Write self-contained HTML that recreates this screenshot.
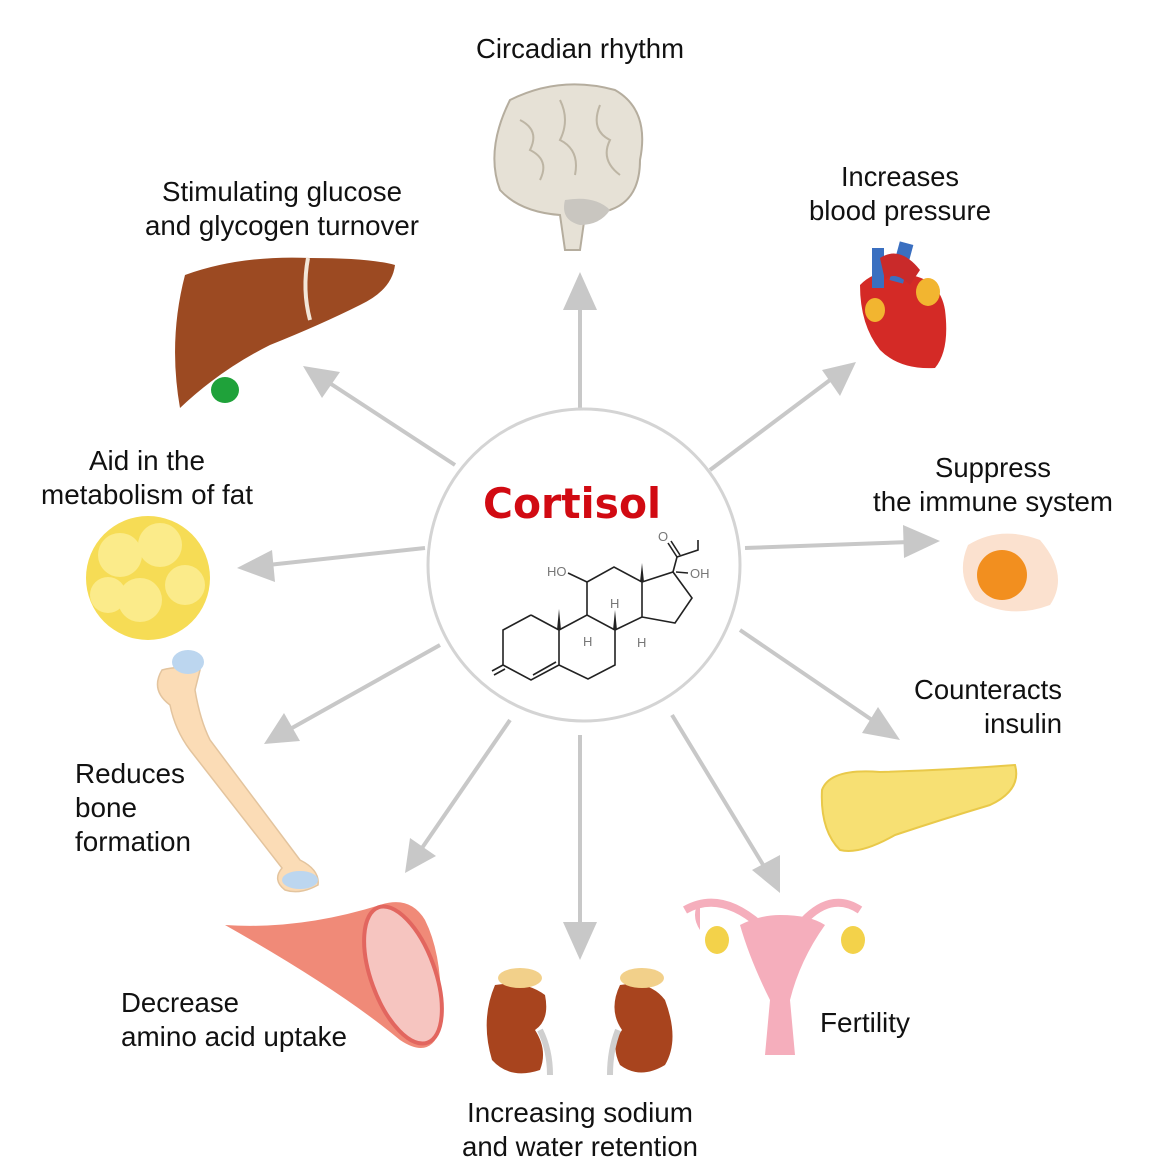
<!DOCTYPE html>
<html><head><meta charset="utf-8"><style>
html,body{margin:0;padding:0;background:#fff}
svg{display:block}
text{font-family:"Liberation Sans",Arial,sans-serif;fill:#111}
</style></head><body>
<svg width="1169" height="1170" viewBox="0 0 1169 1170" xmlns="http://www.w3.org/2000/svg">
<defs>
<marker id="ah" viewBox="0 0 10 10" refX="9" refY="5" markerWidth="12" markerHeight="11" markerUnits="userSpaceOnUse" orient="auto">
</marker>
</defs>
<rect width="1169" height="1170" fill="#fff"/>
<!-- arrows -->
<g stroke="#c8c8c8" stroke-width="4" fill="none">
<path d="M580 410 L580 300"/>
<path d="M710 470 L830 380"/>
<path d="M745 548 L910 542"/>
<path d="M740 630 L875 722"/>
<path d="M672 715 L765 868"/>
<path d="M580 735 L580 930"/>
<path d="M510 720 L422 848"/>
<path d="M440 645 L292 728"/>
<path d="M425 548 L268 565"/>
<path d="M455 465 L328 382"/>
</g>
<g fill="#c8c8c8">
<polygon points="580,272 563,310 597,310"/>
<polygon points="856,362 822,370 840,396"/>
<polygon points="940,541 903,525 904,558"/>
<polygon points="900,740 878,707 862,733"/>
<polygon points="780,893 752,870 780,855"/>
<polygon points="580,960 563,922 597,922"/>
<polygon points="405,873 410,838 436,856"/>
<polygon points="264,744 284,713 300,741"/>
<polygon points="237,568 272,550 275,582"/>
<polygon points="303,366 340,372 322,398"/>
</g>
<!-- center circle -->
<circle cx="584" cy="565" r="156" fill="#fff" stroke="#d4d4d4" stroke-width="3"/>
<text x="572" y="518" text-anchor="middle" font-size="42" font-weight="bold" style="fill:#d10a12;font-family:'DejaVu Sans','Liberation Sans',sans-serif" textLength="178" lengthAdjust="spacingAndGlyphs">Cortisol</text>
<!-- molecule -->
<g stroke="#222" stroke-width="1.6" fill="none">
<polyline points="531,615 559,630 559,665 531,680 503,665 503,630 531,615"/>
<line x1="533" y1="675" x2="556" y2="662"/>
<polyline points="559,630 587,615 615,630 615,665 588,679 559,665"/>
<polyline points="587,615 587,582 614,567 642,582 642,617 615,630"/>
<polyline points="642,582 673,572 692,598 675,623 642,617"/>
<polyline points="673,572 677,557 698,550 698,540"/>
<line x1="677" y1="557" x2="668" y2="543"/><line x1="680" y1="555" x2="671" y2="541"/>
<line x1="503" y1="665" x2="492" y2="671"/><line x1="505" y1="669" x2="494" y2="675"/>
<line x1="587" y1="582" x2="568" y2="573"/>
<line x1="676" y1="572" x2="688" y2="573"/>
</g>
<g fill="#222"><polygon points="557,630 561,630 559,609"/><polygon points="640,582 644,582 642,563"/><polygon points="613,630 617,630 615,610"/></g>
<g font-size="13" style="fill:#666">
<text x="547" y="576" style="fill:#777">HO</text><text x="690" y="578" style="fill:#777">OH</text>
<text x="658" y="541" style="fill:#777">O</text>
<text x="583" y="646" style="fill:#777">H</text><text x="610" y="608" style="fill:#777">H</text><text x="637" y="647" style="fill:#777">H</text>
</g>
<!-- labels -->
<g font-size="28">
<text x="580" y="58" text-anchor="middle" textLength="208" lengthAdjust="spacingAndGlyphs">Circadian rhythm</text>
<text x="900" y="186" text-anchor="middle" textLength="118" lengthAdjust="spacingAndGlyphs">Increases</text>
<text x="900" y="220" text-anchor="middle" textLength="182" lengthAdjust="spacingAndGlyphs">blood pressure</text>
<text x="282" y="201" text-anchor="middle" textLength="240" lengthAdjust="spacingAndGlyphs">Stimulating glucose</text>
<text x="282" y="235" text-anchor="middle" textLength="274" lengthAdjust="spacingAndGlyphs">and glycogen turnover</text>
<text x="147" y="470" text-anchor="middle" textLength="116" lengthAdjust="spacingAndGlyphs">Aid in the</text>
<text x="147" y="504" text-anchor="middle" textLength="212" lengthAdjust="spacingAndGlyphs">metabolism of fat</text>
<text x="993" y="477" text-anchor="middle" textLength="116" lengthAdjust="spacingAndGlyphs">Suppress</text>
<text x="993" y="511" text-anchor="middle" textLength="240" lengthAdjust="spacingAndGlyphs">the immune system</text>
<text x="1062" y="699" text-anchor="end" textLength="148" lengthAdjust="spacingAndGlyphs">Counteracts</text>
<text x="1062" y="733" text-anchor="end" textLength="78" lengthAdjust="spacingAndGlyphs">insulin</text>
<text x="75" y="783" textLength="110" lengthAdjust="spacingAndGlyphs">Reduces</text>
<text x="75" y="817" textLength="62" lengthAdjust="spacingAndGlyphs">bone</text>
<text x="75" y="851" textLength="116" lengthAdjust="spacingAndGlyphs">formation</text>
<text x="121" y="1012" textLength="118" lengthAdjust="spacingAndGlyphs">Decrease</text>
<text x="121" y="1046" textLength="226" lengthAdjust="spacingAndGlyphs">amino acid uptake</text>
<text x="820" y="1032" textLength="90" lengthAdjust="spacingAndGlyphs">Fertility</text>
<text x="580" y="1122" text-anchor="middle" textLength="226" lengthAdjust="spacingAndGlyphs">Increasing sodium</text>
<text x="580" y="1156" text-anchor="middle" textLength="236" lengthAdjust="spacingAndGlyphs">and water retention</text>
</g>
<!-- brain -->
<path d="M510 100 Q560 75 615 90 Q650 110 640 160 Q640 200 610 210 L585 215 L580 250 L565 250 L560 215 Q520 212 500 190 Q485 150 510 100Z" fill="#e6e1d6" stroke="#b5ad9e" stroke-width="2"/>
<path d="M565 200 Q595 195 610 210 Q600 225 580 225 Q560 220 565 200Z" fill="#c9c6c0"/>
<g stroke="#bdb5a4" stroke-width="2" fill="none"><path d="M520 120 Q540 130 530 150 Q550 160 540 180"/><path d="M560 100 Q570 120 560 140 Q580 150 575 175"/><path d="M600 105 Q590 130 610 140 Q600 160 620 175"/></g>
<!-- heart -->
<path d="M860 285 Q880 265 910 275 Q940 280 945 310 Q950 350 935 368 Q900 370 880 350 Q860 325 860 285Z" fill="#d42a26"/>
<rect x="872" y="248" width="12" height="40" fill="#3a6fc0"/><rect x="895" y="242" width="14" height="40" fill="#3a6fc0" transform="rotate(15 900 260)"/>
<path d="M880 258 Q900 245 920 270 L910 285 Q895 270 885 280Z" fill="#c92a2a"/>
<ellipse cx="928" cy="292" rx="12" ry="14" fill="#f2b530"/><ellipse cx="875" cy="310" rx="10" ry="12" fill="#f2b530"/>
<!-- liver -->
<path d="M185 275 Q240 255 310 258 Q370 258 395 265 Q392 290 360 305 Q320 325 270 345 Q220 370 180 408 Q168 340 185 275Z" fill="#9c4a22"/>
<path d="M308 258 Q302 290 310 320" stroke="#f2e6d8" stroke-width="4" fill="none"/>
<ellipse cx="225" cy="390" rx="14" ry="13" fill="#1fa23a"/>
<!-- fat -->
<circle cx="148" cy="578" r="62" fill="#f6dc55"/>
<g fill="#fbeb8a"><circle cx="120" cy="555" r="22"/><circle cx="160" cy="545" r="22"/><circle cx="185" cy="585" r="20"/><circle cx="140" cy="600" r="22"/><circle cx="108" cy="595" r="18"/></g>
<!-- egg cell -->
<path d="M968 545 Q1000 525 1040 540 Q1070 575 1050 605 Q1010 620 975 600 Q955 575 968 545Z" fill="#fbe1cf"/>
<circle cx="1002" cy="575" r="25" fill="#f28f1f"/>
<!-- pancreas -->
<path d="M822 790 Q830 768 880 772 Q950 770 1015 765 Q1022 790 990 805 Q940 820 895 835 Q860 855 840 850 Q820 830 822 790Z" fill="#f7e073" stroke="#e9c94a" stroke-width="2"/>
<!-- uterus -->
<path d="M700 900 Q690 915 700 930 M740 925 Q760 915 780 915 Q810 915 825 925 Q800 960 790 1000 L795 1055 L765 1055 L770 1000 Q750 960 740 925Z" fill="#f5aebc"/>
<path d="M685 910 Q720 890 760 925 M860 910 Q830 890 800 925" stroke="#f5aebc" stroke-width="8" fill="none"/>
<ellipse cx="717" cy="940" rx="12" ry="14" fill="#f3d24a"/><ellipse cx="853" cy="940" rx="12" ry="14" fill="#f3d24a"/>
<!-- kidneys -->
<path d="M495 985 Q525 980 545 995 Q550 1020 535 1030 Q548 1050 540 1070 Q510 1080 492 1060 Q480 1020 495 985Z" fill="#a8441e"/>
<path d="M620 985 Q650 980 665 1000 Q680 1040 665 1065 Q640 1080 620 1065 Q610 1045 622 1030 Q608 1010 620 985Z" fill="#a8441e"/>
<ellipse cx="520" cy="978" rx="22" ry="10" fill="#f2d08a"/><ellipse cx="642" cy="978" rx="22" ry="10" fill="#f2d08a"/>
<path d="M540 1030 Q550 1050 550 1075 M618 1030 Q610 1050 610 1075" stroke="#cfcfcf" stroke-width="6" fill="none"/>
<!-- bone -->
<path d="M162 670 Q180 665 200 670 L195 690 Q200 720 210 740 L300 860 Q320 870 318 885 Q300 895 285 890 Q272 880 282 868 L190 750 Q175 730 170 705 Q150 690 162 670Z" fill="#fbdcb6" stroke="#e3c49e" stroke-width="1.5"/>
<ellipse cx="188" cy="662" rx="16" ry="12" fill="#bcd6ef"/>
<ellipse cx="300" cy="880" rx="18" ry="9" fill="#bcd6ef"/>
<!-- muscle -->
<path d="M225 925 Q300 930 380 905 Q410 895 425 920 Q445 960 440 1030 Q430 1060 400 1040 Q340 990 225 925Z" fill="#f08a78"/>
<ellipse cx="403" cy="975" rx="32" ry="72" fill="#f6c5c0" stroke="#e2665f" stroke-width="4" transform="rotate(-20 403 975)"/>
</svg>
</body></html>
